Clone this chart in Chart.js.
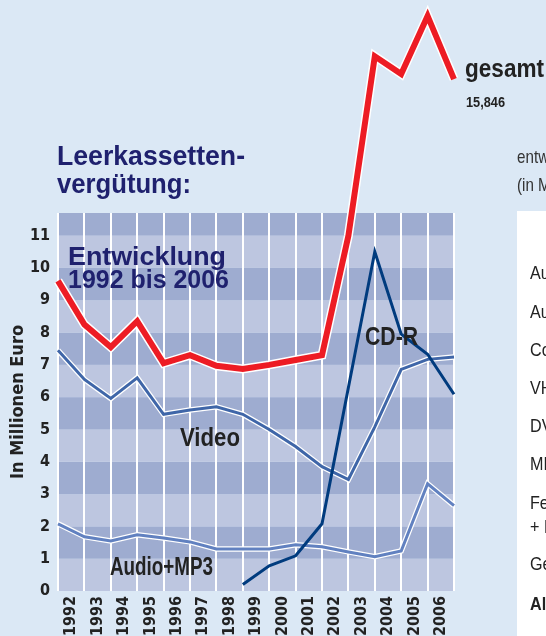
<!DOCTYPE html>
<html><head><meta charset="utf-8">
<script src="https://cdn.jsdelivr.net/npm/chart.js@4/dist/chart.umd.min.js"></script>
<style>html,body{margin:0;padding:0;background:#dbe8f5;overflow:hidden}canvas{display:block}</style>
</head><body>
<canvas id="c" width="546" height="636"></canvas>
<script>
// ---- data ----
const years = ['1992','1993','1994','1995','1996','1997','1998','1999','2000','2001','2002','2003','2004','2005','2006'];
const steps = [0,1,2,3,4,5,6,7,8,9,10,11,12,13,14,15];
const gesamt   = [9.6, 8.25, 7.55, 8.35, 7.05, 7.3, 6.97, 6.87, 7.0, 7.15, 7.3, 11.0, 16.55, 16.0, 17.8, 15.846];
const video    = [7.45, 6.55, 5.96, 6.6, 5.47, 5.6, 5.7, 5.47, 5.0, 4.47, 3.85, 3.45, 5.08, 6.86, 7.17, 7.24];
const audioMp3 = [2.08, 1.68, 1.55, 1.74, 1.64, 1.52, 1.3, 1.3, 1.3, 1.43, 1.37, 1.21, 1.06, 1.24, 3.32, 2.64];
const cdR      = [null, null, null, null, null, null, null, 0.2, 0.78, 1.09, 2.08, 6.3, 10.5, 7.95, 7.33, 6.09];
const yTicks   = [0,1,2,3,4,5,6,7,8,9,10,11];
const sideRows = ['Audiokassetten','Audio-CD-R','Computer','VHS','DVD','MP3-Player','Festplatten-','+ DVD-Rekorder','Gesamt','Alle'];

const F = "'DejaVu Sans Condensed','Liberation Sans Narrow',sans-serif";
const H = "'Liberation Sans','Arial',sans-serif";
const xy = arr => steps.map((s,i)=>({x:s, y:arr[i]}));

function fitText(ctx, text, x, y, font, w){
  ctx.font = font;
  const m = ctx.measureText(text).width;
  ctx.save(); ctx.translate(x, y); ctx.scale(w/m, 1); ctx.fillText(text, 0, 0); ctx.restore();
}
function narrowText(ctx, text, x, y, font, k){
  ctx.font = font;
  ctx.save(); ctx.translate(x, y); ctx.scale(k, 1); ctx.fillText(text, 0, 0); ctx.restore();
}

const bands = {
  id:'bands',
  beforeDraw(chart){
    const {ctx, chartArea:a, scales:{y}} = chart;
    ctx.save();
    ctx.fillStyle = '#dbe8f5';
    ctx.fillRect(0,0,chart.width,chart.height);
    for(let v=0; v<y.max; v++){
      const top = y.getPixelForValue(Math.min(v+1, y.max));
      const bot = y.getPixelForValue(v);
      ctx.fillStyle = (v%2===0) ? '#bdc6e0' : '#9eacd0';
      ctx.fillRect(a.left, top, a.right-a.left, bot-top);
    }
    ctx.fillStyle = '#ffffff';
    ctx.fillRect(517, 211, chart.width-517, chart.height-211);
    ctx.restore();
  },
  afterDraw(chart){
    const {ctx, scales:{x,y}} = chart;
    ctx.save();
    ctx.textBaseline = 'alphabetic';
    ctx.textAlign = 'left';
    ctx.fillStyle = '#1f216e';
    fitText(ctx, 'Leerkassetten-', 57, 165, 'bold 28px ' + H, 188);
    fitText(ctx, 'vergütung:', 57, 193, 'bold 28px ' + H, 134);
    fitText(ctx, 'Entwicklung', 68, 265, 'bold 25px ' + H, 158);
    fitText(ctx, '1992 bis 2006', 68, 288, 'bold 25px ' + H, 161);
    ctx.fillStyle = '#222';
    fitText(ctx, 'Video', x.getPixelForValue(4.62), y.getPixelForValue(4.5), 'bold 25px ' + H, 60);
    fitText(ctx, 'CD-R', x.getPixelForValue(11.63), y.getPixelForValue(7.6), 'bold 25px ' + H, 53);
    fitText(ctx, 'Audio+MP3', x.getPixelForValue(1.97), y.getPixelForValue(0.5), 'bold 25px ' + H, 103);
    fitText(ctx, 'gesamt', 465, 77, 'bold 26px ' + H, 79);
    fitText(ctx, '15,846', 466, 107, 'bold 14px ' + H, 39);
    ctx.fillStyle = '#333';
    narrowText(ctx, 'entwicklung', 517, 163, '19px ' + H, 0.8);
    narrowText(ctx, '(in Millionen Euro)', 517, 191, '19px ' + H, 0.8);
    ctx.fillStyle = '#222';
    const rowY = [279, 318, 356, 394, 432, 470, 509, 533, 570, 610];
    sideRows.forEach((t,i)=>{
      narrowText(ctx, t, 530, rowY[i], (i===sideRows.length-1 ? 'bold ' : '') + '19px ' + H, 0.85);
    });
    ctx.restore();
  }
};

const lineBase = {pointRadius:0, tension:0, borderJoinStyle:'miter', borderCapStyle:'butt', clip:false, fill:false};

new Chart(document.getElementById('c'), {
  type:'line',
  data:{
    datasets:[
      {...lineBase, label:'gesamt', data:xy(gesamt), borderColor:'#ed1c24', borderWidth:6, order:0},
      {...lineBase, label:'gesamt-rand', data:xy(gesamt), borderColor:'#ffffff', borderWidth:9, order:1},
      {...lineBase, label:'CD-R', data:xy(cdR), borderColor:'#003b7e', borderWidth:3, order:2, spanGaps:false},
      {...lineBase, label:'Video', data:xy(video), borderColor:'#3f66a8', borderWidth:3, order:3},
      {...lineBase, label:'video-rand', data:xy(video), borderColor:'#ffffff', borderWidth:5.5, order:4},
      {...lineBase, label:'Audio+MP3', data:xy(audioMp3), borderColor:'#6181c0', borderWidth:3, order:5},
      {...lineBase, label:'audio-rand', data:xy(audioMp3), borderColor:'#ffffff', borderWidth:5.5, order:6}
    ]
  },
  options:{
    responsive:false, animation:false, devicePixelRatio:1,
    layout:{padding:{top:213, right:92, left:0, bottom:0}},
    plugins:{legend:{display:false}, tooltip:{enabled:false}},
    scales:{
      x:{
        type:'linear', min:0, max:15,
        afterBuildTicks: s => { s.ticks = steps.map(v=>({value:v})); },
        ticks:{autoSkip:false, minRotation:90, maxRotation:90, labelOffset:13.2, padding:5,
          color:'#222', font:{family:F, weight:'bold', size:16},
          callback:(v,i)=> years[i] !== undefined ? years[i] : ''},
        grid:{color:'#ffffff', lineWidth:2, drawTicks:false},
        border:{display:false},
        afterFit: s => { s.height = 45; }
      },
      y:{
        min:0, max:11.7,
        afterBuildTicks: s => { s.ticks = yTicks.map(v=>({value:v})); },
        ticks:{color:'#222', font:{family:F, weight:'bold', size:16}, padding:8},
        grid:{display:false, drawTicks:false},
        border:{display:false},
        title:{display:true, text:'In Millionen Euro', color:'#222', font:{family:F, weight:'bold', size:18}, padding:{top:8,bottom:0}},
        afterFit: s => { s.width = 58; }
      }
    }
  },
  plugins:[bands]
});
</script>
</body></html>
